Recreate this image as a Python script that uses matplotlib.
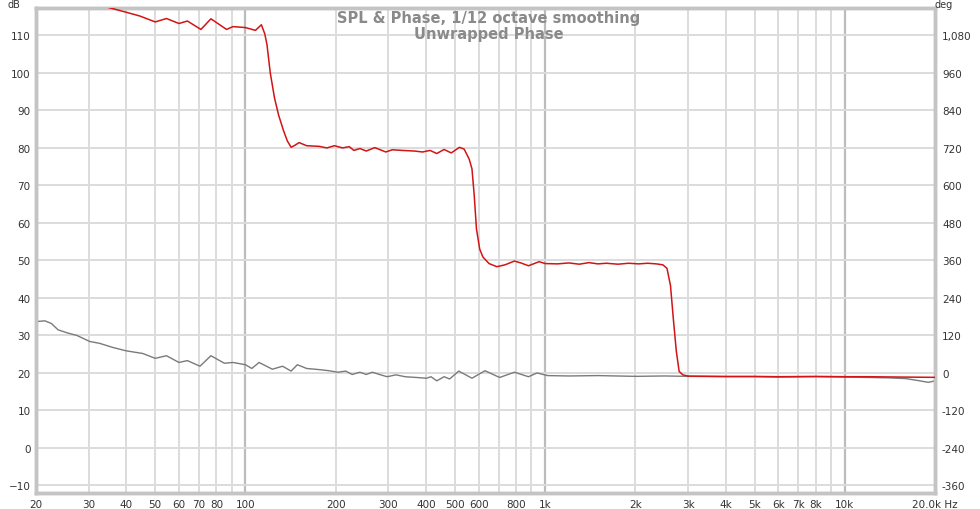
import matplotlib
matplotlib.use("Agg")
import matplotlib.pyplot as plt
import numpy as np

# SPL trace (left axis, dB)
spl_freq = [20, 21.4, 22.5, 23.7, 25.4, 27.4, 30.2, 32.6, 36.1, 40, 45.4, 50, 54.5, 60, 64,
            70.5, 76.7, 85, 90.8, 100, 105, 111, 123, 133, 142, 149, 160, 176, 190, 203,
            216, 227, 241, 253, 265, 280, 297, 318, 341, 372, 402, 416, 435, 460, 480, 515,
            570, 630, 705, 790, 880, 940, 1020, 1200, 1500, 2000, 2500, 3000, 4000, 5000,
            6000, 8000, 10000, 12000, 14000, 16000, 17500, 19000, 20000]
spl_db = [33.7, 33.9, 33.2, 31.5, 30.7, 30.0, 28.4, 27.9, 26.8, 25.9, 25.2, 23.9, 24.6, 22.8, 23.3,
          21.8, 24.6, 22.6, 22.8, 22.2, 21.2, 22.8, 21.0, 21.8, 20.5, 22.2, 21.2, 20.9, 20.6, 20.2,
          20.5, 19.6, 20.2, 19.6, 20.2, 19.6, 19.0, 19.5, 19.0, 18.8, 18.6, 19.0, 17.9, 19.0, 18.4, 20.5,
          18.6, 20.6, 18.8, 20.2, 19.0, 20.0, 19.3, 19.2, 19.3, 19.1, 19.2, 19.1, 19.0, 19.0,
          18.9, 19.0, 18.9, 18.8, 18.7, 18.5, 18.0, 17.5, 17.9]

# unwrapped phase trace (right axis, deg)
ph_freq = [32, 35.3, 40, 44.4, 50, 54.5, 60, 64, 71, 76.7, 86.5, 90.8, 100, 108, 113, 116,
           118, 121, 125, 129, 134, 138, 142, 146, 151, 160, 176, 187, 198, 211, 222, 230, 241,
           253, 270, 294, 309, 333, 366, 390, 413, 435, 460, 486, 518, 537, 558, 570, 580,
           590, 605, 620, 650, 690, 735, 790, 830, 880, 955, 1000, 1100, 1200, 1300, 1400,
           1500, 1600, 1750, 1900, 2050, 2200, 2350, 2470, 2550, 2620, 2680, 2740, 2800,
           2880, 3000, 4000, 5000, 6000, 8000, 10000, 12000, 15000, 20000]
ph_deg = [1180, 1168, 1154, 1142, 1123, 1134, 1118, 1126, 1099, 1133, 1099, 1108, 1105, 1096, 1114, 1085,
          1050, 960, 880, 825, 775, 742, 722, 728, 737, 727, 725, 720, 727, 720, 724, 712, 718,
          710, 721, 707, 714, 712, 710, 707, 712, 702, 715, 704, 722, 716, 684, 653, 568,
          461, 396, 371, 350, 340, 346, 358, 352, 343, 356, 350, 349, 352, 348, 353,
          349, 351, 348, 351, 349, 351, 349, 346, 335, 280, 170, 70, 5,
          -6, -10, -11, -11, -12, -11, -12, -12, -13, -14]

xticks = [20, 30, 40, 50, 60, 70, 80, 100, 200, 300, 400, 500, 600, 800, 1000,
          2000, 3000, 4000, 5000, 6000, 7000, 8000, 10000, 20000]
xlabels = ["20", "30", "40", "50", "60", "70", "80", "100", "200", "300", "400", "500", "600",
           "800", "1k", "2k", "3k", "4k", "5k", "6k", "7k", "8k", "10k", "20.0k Hz"]
grid_minor = [20, 30, 40, 50, 60, 70, 80, 90, 200, 300, 400, 500, 600, 700, 800, 900,
              2000, 3000, 4000, 5000, 6000, 7000, 8000, 9000]
grid_major = [100, 1000, 10000]
db_ticks = list(range(-10, 111, 10))
deg_ticks = list(range(-360, 1081, 120))

fig = plt.figure(figsize=(9.8, 5.1), dpi=100)
ax = fig.add_axes([36 / 980, 16 / 510, 899 / 980, 485 / 510])
ax.set_xscale("log")
ax.set_xlim(20, 20000)
ax.set_ylim(-12, 117.3)

for f in grid_minor:
    ax.axvline(f, color="#dcdcdc", lw=1.4, zorder=0)
for f in grid_major:
    ax.axvline(f, color="#bcbcbc", lw=1.6, zorder=0)
for d in db_ticks:
    ax.axhline(d, color="#dcdcdc", lw=1.4, zorder=0)

ax.plot(spl_freq, spl_db, color="#7a7a7a", lw=1.0, zorder=3)

ax.set_xticks(xticks)
ax.set_xticklabels(xlabels)
ax.xaxis.set_minor_locator(matplotlib.ticker.NullLocator())
ax.set_yticks(db_ticks)
ax.tick_params(length=0, labelsize=7.5, labelcolor="#333333", pad=4)

ax2 = ax.twinx()
ax2.set_ylim(12 * (-12 - 20), 12 * (117.3 - 20))
ax2.set_yticks(deg_ticks)
ax2.set_yticklabels([f"{d:,}" for d in deg_ticks])
ax2.tick_params(length=0, labelsize=7.5, labelcolor="#333333", pad=5)
ax2.plot(ph_freq, ph_deg, color="#d21414", lw=1.1, zorder=3)

for a in (ax, ax2):
    for s in a.spines.values():
        s.set_color("#c4c4c4")
        s.set_linewidth(2.5)

fig.text(14 / 980, 1 - 5 / 510, "dB", fontsize=7, color="#333333", ha="center", va="center")
fig.text(944 / 980, 1 - 5 / 510, "deg", fontsize=7, color="#333333", ha="center", va="center")

fig.text(489 / 980, 1 - 18 / 510, "SPL & Phase, 1/12 octave smoothing", fontsize=10.5,
         fontweight="bold", color="#8a8a8a", ha="center", va="center")
fig.text(489 / 980, 1 - 34 / 510, "Unwrapped Phase", fontsize=10.5,
         fontweight="bold", color="#8a8a8a", ha="center", va="center")

plt.savefig("out.png", dpi=100)
